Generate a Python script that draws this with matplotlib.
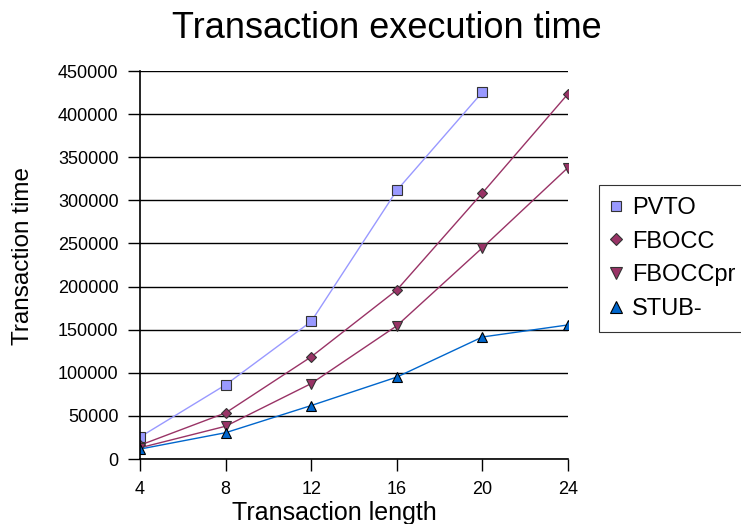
import matplotlib
matplotlib.use("Agg")
import matplotlib.pyplot as plt

plt.rcParams['font.family'] = ['Liberation Sans', 'DejaVu Sans']

lengths = [4, 8, 12, 16, 20, 24]
pvto = [25500, 86000, 159500, 311500, 425500]
fbocc = [16000, 53500, 118500, 196000, 308500, 423500]
fboccpr = [13000, 38000, 87500, 154500, 245000, 338000]
stub = [11500, 30500, 62000, 95000, 141500, 155500]
yticks = list(range(0, 450001, 50000))

fig = plt.figure(figsize=(7.41, 5.24), dpi=100)
ax = fig.add_axes([140 / 741, 1 - 459 / 524, 428 / 741, 388 / 524])

ax.plot(lengths[:5], pvto, color='#9999FF', lw=1, marker='s', ms=6.5,
        mfc='#9999FF', mec='#333333', mew=0.8, label='PVTO')
ax.plot(lengths, fbocc, color='#993366', lw=1, marker='D', ms=5,
        mfc='#993366', mec='#333333', mew=0.8, label='FBOCC')
ax.plot(lengths, fboccpr, color='#993366', lw=1, marker='v', ms=7.5,
        mfc='#993366', mec='#333333', mew=0.8, label='FBOCCpr')
ax.plot(lengths, stub, color='#0066CC', lw=1, marker='^', ms=7.5,
        mfc='#0066CC', mec='#000000', mew=0.8, label='STUB-')

ax.set_xlim(4, 24)
ax.set_ylim(0, 450000)
ax.set_yticks(yticks)
ax.set_xticks(lengths)
ax.tick_params(axis='both', labelsize=13, length=8.5, width=1, direction='out')
ax.tick_params(axis='y', pad=7)
ax.tick_params(axis='x', pad=7)
ax.grid(axis='y', color='#000000', lw=1)
ax.set_axisbelow(True)
for s in ['top', 'right']:
    ax.spines[s].set_visible(False)
ax.spines['left'].set_linewidth(1.2)
ax.spines['bottom'].set_linewidth(1.2)

fig.text(334 / 741, 1 - 520 / 524, 'Transaction length', fontsize=18,
         ha='center', va='baseline')
fig.text(23 / 741, 1 - 256 / 524, 'Transaction time', fontsize=17.5,
         ha='center', va='center', rotation=90)
fig.text(387 / 741, 1 - 38 / 524, 'Transaction execution time', fontsize=26,
         ha='center', va='baseline')

leg = ax.legend(loc='upper left', bbox_to_anchor=(599 / 741, 1 - 185 / 524),
                bbox_transform=fig.transFigure, fontsize=17, frameon=True,
                fancybox=False, edgecolor='#000000', handlelength=0.4,
                handletextpad=0.5, borderaxespad=0, labelspacing=0.5,
                borderpad=0.5, markerscale=1.15)
leg.get_frame().set_linewidth(0.8)
for h in leg.legend_handles:
    h.set_linestyle('None')

fig.savefig('out.png', dpi=100)
